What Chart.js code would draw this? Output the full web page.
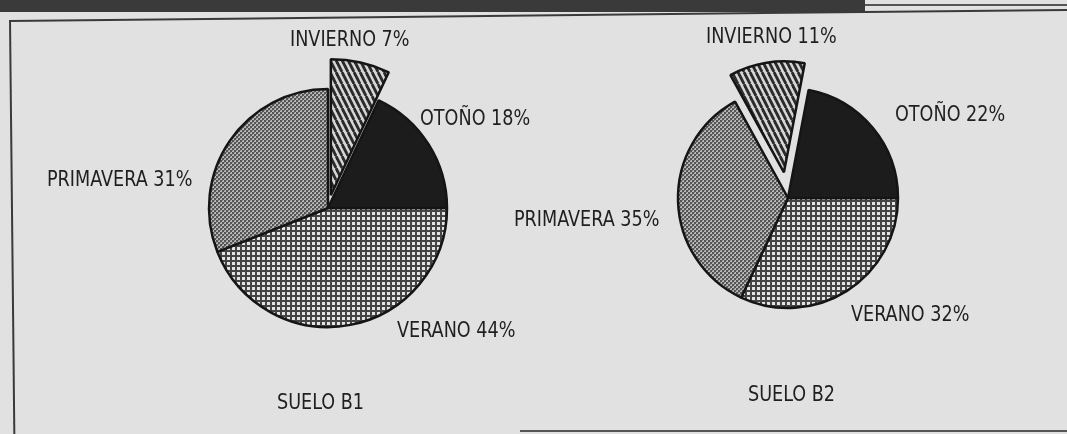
<!DOCTYPE html>
<html><head><meta charset="utf-8">
<script src="https://cdn.jsdelivr.net/npm/chart.js@4"></script>
<style>
html,body{margin:0;padding:0;}
body{width:1067px;height:434px;background:#e1e1e1;position:relative;overflow:hidden;}
canvas{position:absolute;left:0;top:0;}
.band{position:absolute;left:0;top:0;width:865px;height:12px;background:#3a3a3a;}
.band2{position:absolute;left:865px;top:4px;width:202px;height:2px;background:#555;}
.frame{position:absolute;left:9px;top:20px;width:1100px;height:430px;border-left:2px solid #3a3a3a;border-top:2px solid #3a3a3a;transform-origin:0 0;transform:rotate(-0.6deg);}
.bottom{position:absolute;left:520px;top:430px;width:547px;height:2px;background:#555;}
</style></head><body>
<div class="band"></div><div class="band2"></div><div class="frame"></div><div class="bottom"></div>
<canvas id="c1" width="1067" height="434"></canvas>
<canvas id="c2" width="1067" height="434"></canvas>
<script>
// ---- data ----
const seasons = ['VERANO', 'PRIMAVERA', 'INVIERNO', 'OTOÑO'];
const sueloB1 = [44, 31, 7, 18];
const sueloB2 = [32, 35, 11, 22];
const titles = ['SUELO B1', 'SUELO B2'];

// ---- fill patterns (style) ----
function tile(w, h, draw) {
  const c = document.createElement('canvas');
  c.width = w; c.height = h;
  const x = c.getContext('2d');
  draw(x, w, h);
  return x.createPattern(c, 'repeat');
}
const patVerano = tile(5, 5, (x, w, h) => {
  x.fillStyle = '#e4e4e4'; x.fillRect(0, 0, w, h);
  x.fillStyle = '#444'; x.fillRect(0, 0, w, 2); x.fillRect(0, 0, 2, h);
});
const patPrimavera = tile(4, 4, (x, w, h) => {
  x.fillStyle = '#b8b8b8'; x.fillRect(0, 0, w, h);
  x.fillStyle = '#555'; x.fillRect(0, 0, 2, 2); x.fillRect(2, 2, 2, 2);
  x.fillStyle = '#888'; x.fillRect(2, 0, 1, 1); x.fillRect(0, 2, 1, 1);
});
const patInvierno = tile(6, 12, (x, w, h) => {
  x.fillStyle = '#d6d6d6'; x.fillRect(0, 0, w, h);
  x.strokeStyle = '#2a2a2a'; x.lineWidth = 2.8;
  for (const o of [-6, 0, 6]) { x.beginPath(); x.moveTo(o, 0); x.lineTo(o + 6, 12); x.stroke(); }
});
const fillOtono = '#1c1c1c';
const seasonFills = [patVerano, patPrimavera, patInvierno, fillOtono];

// ---- plugins ----
const explodePlugin = {
  id: 'explode',
  afterDatasetsUpdate(chart, args, opts) {
    const el = chart.getDatasetMeta(0).data[opts.index];
    if (!el) return;
    const mid = (el.startAngle + el.endAngle) / 2;
    el.x += Math.cos(mid) * opts.distance;
    el.y += Math.sin(mid) * opts.distance;
    el.outerRadius += opts.extraRadius;
  }
};
const labelPlugin = {
  id: 'seasonLabels',
  afterDraw(chart, args, opts) {
    const ctx = chart.ctx, a = chart.chartArea;
    const cx = (a.left + a.right) / 2, cy = (a.top + a.bottom) / 2;
    const ds = chart.data.datasets[0];
    const put = (txt, o) => {
      ctx.save();
      ctx.translate(cx + o[0], cy + o[1]);
      ctx.scale(opts.scaleX, 1);
      ctx.fillText(txt, 0, 0);
      ctx.restore();
    };
    ctx.save();
    ctx.font = opts.font;
    ctx.fillStyle = opts.color;
    ctx.textAlign = 'left';
    ctx.textBaseline = 'middle';
    chart.data.labels.forEach((lab, i) => put(lab + ' ' + ds.data[i] + '%', opts.offsets[i]));
    put(opts.title, opts.titleOffset);
    ctx.restore();
  }
};

function makePie(id, values, title, padding, radius, explode, offsets, titleOffset) {
  return new Chart(document.getElementById(id), {
    type: 'pie',
    data: {
      labels: seasons,
      datasets: [{
        data: values,
        backgroundColor: seasonFills,
        borderColor: '#151515',
        borderWidth: 2.5
      }]
    },
    options: {
      responsive: false,
      animation: false,
      events: [],
      devicePixelRatio: 1,
      rotation: 90,
      radius: radius,
      layout: { padding: padding },
      plugins: {
        legend: { display: false },
        tooltip: { enabled: false },
        explode: explode,
        seasonLabels: {
          font: '22px "DejaVu Sans Condensed", "Liberation Sans Narrow", sans-serif',
          scaleX: 0.89,
          color: '#1f1f1f',
          offsets: offsets,
          title: title,
          titleOffset: titleOffset
        }
      }
    },
    plugins: [explodePlugin, labelPlugin]
  });
}

// label offsets relative to pie centre, in seasons order
makePie('c1', sueloB1, titles[0],
  { left: 0, right: 411, top: 0, bottom: 18 }, 119,
  { index: 2, distance: 13, extraRadius: 17 },
  [[69, 123], [-281, -28], [-38, -168], [92, -89]], [-51, 195]);

makePie('c2', sueloB2, titles[1],
  { left: 509, right: 0, top: 0, bottom: 38 }, 110,
  { index: 2, distance: 26, extraRadius: 1 },
  [[63, 117], [-274, 22], [-82, -161], [107, -83]], [-40, 197]);
</script>
</body></html>
